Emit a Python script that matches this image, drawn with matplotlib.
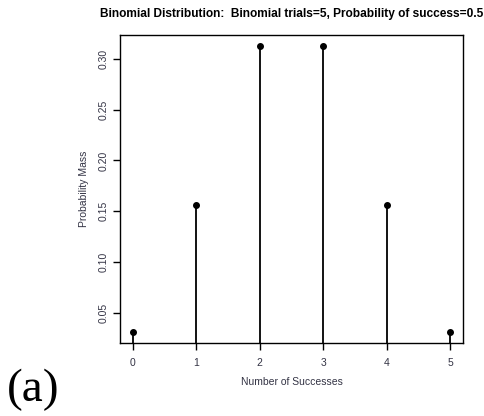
import numpy as np
import matplotlib
matplotlib.use("Agg")
import matplotlib.pyplot as plt

successes = [0, 1, 2, 3, 4, 5]
prob_mass = [0.03125, 0.15625, 0.3125, 0.3125, 0.15625, 0.03125]
yticks = [0.05, 0.10, 0.15, 0.20, 0.25, 0.30]
ytick_labels = ["0.05", "0.10", "0.15", "0.20", "0.25", "0.30"]

plt.rcParams['font.family'] = ['Liberation Sans', 'DejaVu Sans']

fig = plt.figure(figsize=(4.84, 4.16), dpi=100)
ax = fig.add_axes([0.248, 0.1755, 0.709, 0.7405])

ymin, ymax = 0.02, 0.32375
ax.vlines(successes, ymin, prob_mass, color='black', lw=1.3)
ax.plot(successes, prob_mass, 'o', color='black', ms=4)
ax.set_xlim(-0.2, 5.2)
ax.set_ylim(ymin, ymax)

ax.set_xticks(successes)
ax.set_yticks(yticks)
ax.set_yticklabels(ytick_labels, rotation=90, va='center')
ax.tick_params(direction='out', length=5, width=1.0, labelsize=7.5, colors='black',
               labelcolor='#333344')
ax.tick_params(axis='x', pad=5.5)
ax.tick_params(axis='y', pad=3.5)
for s in ax.spines.values():
    s.set_linewidth(1.0)

ax.set_xlabel('Number of Successes', fontsize=7.5, color='#333344', labelpad=7)
ax.set_ylabel('Probability Mass', fontsize=7.5, color='#333344', labelpad=7)
ax.set_title('Binomial Distribution:  Binomial trials=5, Probability of success=0.5',
             fontsize=8.6, fontweight='bold', pad=13)

fig.text(0.015, 0.012, '(a)', fontsize=34, family='Liberation Serif', ha='left', va='bottom')

fig.savefig('out.png', dpi=100)
